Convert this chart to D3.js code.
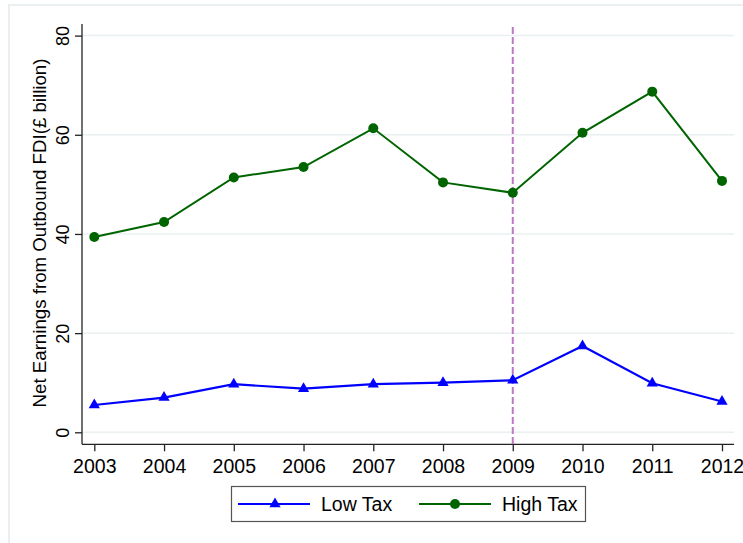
<!DOCTYPE html>
<html>
<head>
<meta charset="utf-8">
<script src="https://cdn.jsdelivr.net/npm/d3@7"></script>
<style>
  body { margin: 0; background: #fff; }
  text { font-family: Arial, "Liberation Sans", sans-serif; }
</style>
</head>
<body>
<div id="chart"></div>
<script>
// data
let years = [2003, 2004, 2005, 2006, 2007, 2008, 2009, 2010, 2011, 2012];
let lowTax = [5.5, 7.0, 9.7, 8.8, 9.7, 10.0, 10.5, 17.4, 9.9, 6.2];
let highTax = [39.4, 42.4, 51.4, 53.5, 61.3, 50.4, 48.3, 60.4, 68.7, 50.7];
let yTicks = [0, 20, 40, 60, 80];
let seriesNames = ["Low Tax", "High Tax"];
let refYear = 2009;

let W = 743, H = 543;
let svg = d3.select("#chart").append("svg")
    .attr("width", W)
    .attr("height", H);

// outer frame
svg.append("rect")
    .attr("x", 9).attr("y", 5)
    .attr("width", W).attr("height", H)
    .attr("fill", "none")
    .attr("stroke", "#eaf0f2")
    .attr("stroke-width", 2);

let x = d3.scaleLinear().domain([2003, 2012]).range([94.3, 722]);
let y = d3.scaleLinear().domain([0, 80]).range([432.3, 35.6]);

let plotLeft = 82, plotRight = 734, plotTop = 24, plotBottom = 444.3;

// gridlines
svg.append("g").selectAll("line")
    .data(yTicks)
    .enter().append("line")
    .attr("x1", plotLeft).attr("x2", plotRight)
    .attr("y1", d => y(d)).attr("y2", d => y(d))
    .attr("stroke", "#eaf0f2")
    .attr("stroke-width", 1.5);

// y axis
let yAxis = svg.append("g")
    .attr("transform", `translate(${plotLeft},0)`)
    .call(d3.axisLeft(y).tickValues(yTicks).tickSize(7).tickPadding(4));
yAxis.select(".domain").remove();
yAxis.append("line")
    .attr("x1", 0).attr("x2", 0)
    .attr("y1", plotTop).attr("y2", plotBottom)
    .attr("stroke", "#222").attr("stroke-width", 1.3);
yAxis.selectAll(".tick line").attr("stroke", "#222").attr("stroke-width", 1.3);
yAxis.selectAll(".tick text")
    .attr("x", null).attr("dy", null)
    .attr("transform", "translate(-13.5,0) rotate(-90)")
    .attr("text-anchor", "middle")
    .attr("font-size", 18)
    .attr("fill", "#000");

// x axis
let xAxis = svg.append("g")
    .attr("transform", `translate(0,${plotBottom})`)
    .call(d3.axisBottom(x).tickValues(years).tickFormat(d3.format("d")).tickSize(7).tickPadding(8));
xAxis.select(".domain").remove();
xAxis.append("line")
    .attr("x1", plotLeft).attr("x2", plotRight)
    .attr("stroke", "#222").attr("stroke-width", 1.3);
xAxis.selectAll(".tick line").attr("stroke", "#222").attr("stroke-width", 1.3);
xAxis.selectAll(".tick text")
    .attr("font-size", 19.5)
    .attr("fill", "#000");

// axis title
svg.append("text")
    .attr("transform", "translate(46,233) rotate(-90)")
    .attr("text-anchor", "middle")
    .attr("font-size", 18.7)
    .attr("fill", "#000")
    .text("Net Earnings from Outbound FDI(£ billion)");

// reference line
svg.append("line")
    .attr("x1", x(refYear)).attr("x2", x(refYear))
    .attr("y1", 27).attr("y2", plotBottom)
    .attr("stroke", "#c077c6")
    .attr("stroke-width", 2)
    .attr("stroke-dasharray", "7,3");

let line = d3.line()
    .x((d, i) => x(years[i]))
    .y(d => y(d));

let tri = d3.symbol().type(d3.symbolTriangle).size(55);

// low tax
svg.append("path")
    .datum(lowTax)
    .attr("d", line)
    .attr("fill", "none")
    .attr("stroke", "#0000ff")
    .attr("stroke-width", 2.2);
svg.selectAll(".lowpt")
    .data(lowTax)
    .enter().append("path")
    .attr("class", "lowpt")
    .attr("d", tri)
    .attr("transform", (d, i) => `translate(${x(years[i])},${y(d)})`)
    .attr("fill", "#0000ff");

// high tax
svg.append("path")
    .datum(highTax)
    .attr("d", line)
    .attr("fill", "none")
    .attr("stroke", "#006400")
    .attr("stroke-width", 2);
svg.selectAll(".highpt")
    .data(highTax)
    .enter().append("circle")
    .attr("class", "highpt")
    .attr("cx", (d, i) => x(years[i]))
    .attr("cy", d => y(d))
    .attr("r", 5)
    .attr("fill", "#006400");

// legend
let legend = svg.append("g");
legend.append("rect")
    .attr("x", 231.5).attr("y", 486.5)
    .attr("width", 354).attr("height", 35)
    .attr("fill", "#fff")
    .attr("stroke", "#555")
    .attr("stroke-width", 1.2);

let legendItems = [
    { name: seriesNames[0], color: "#0000ff", x0: 238, marker: "tri" },
    { name: seriesNames[1], color: "#006400", x0: 419, marker: "circle" }
];
let ly = 504;
legendItems.forEach(function(it) {
    legend.append("line")
        .attr("x1", it.x0).attr("x2", it.x0 + 72)
        .attr("y1", ly).attr("y2", ly)
        .attr("stroke", it.color).attr("stroke-width", 2);
    if (it.marker === "tri") {
        legend.append("path")
            .attr("d", tri)
            .attr("transform", `translate(${it.x0 + 37},${ly})`)
            .attr("fill", it.color);
    } else {
        legend.append("circle")
            .attr("cx", it.x0 + 36).attr("cy", ly).attr("r", 5)
            .attr("fill", it.color);
    }
    legend.append("text")
        .attr("x", it.x0 + 83)
        .attr("y", ly + 7)
        .attr("font-size", 19.5)
        .attr("fill", "#000")
        .text(it.name);
});
</script>
</body>
</html>
